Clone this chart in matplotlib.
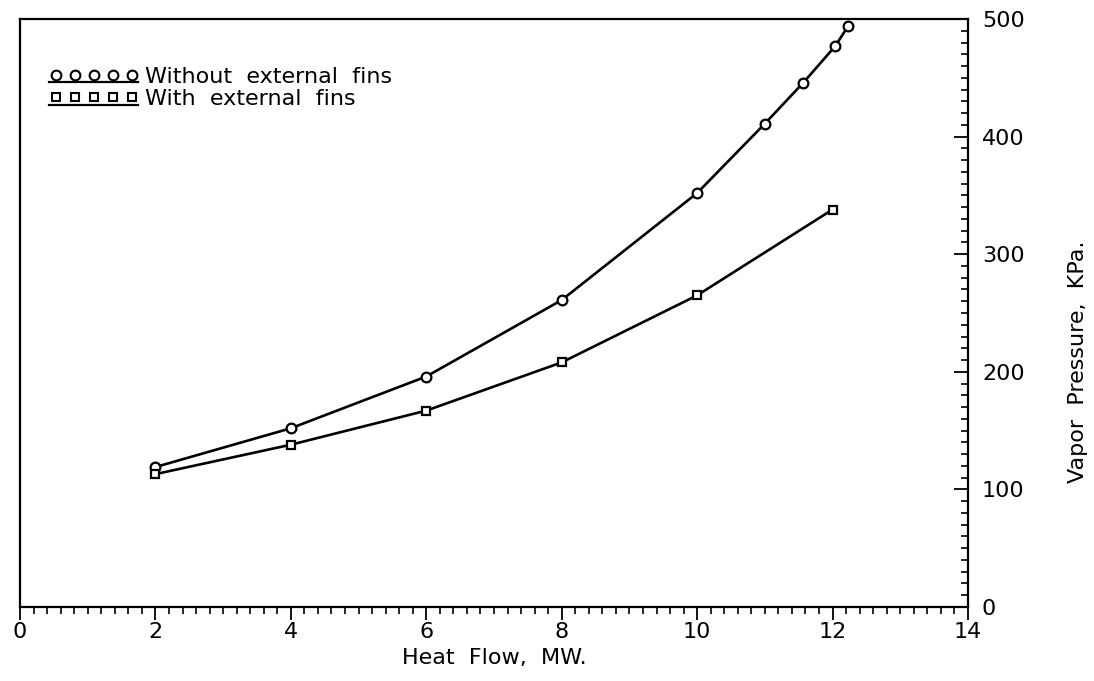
import matplotlib
matplotlib.use("Agg")
import matplotlib.pyplot as plt
from matplotlib.ticker import MultipleLocator
from matplotlib.lines import Line2D
from matplotlib.legend_handler import HandlerLine2D

# Data
heat_without = [2.0, 4.0, 6.0, 8.0, 10.0, 11.0, 11.57, 12.04, 12.23]
vp_without = [119, 152, 196, 261, 352, 411, 446, 477, 494]
heat_with = [2.0, 4.0, 6.0, 8.0, 10.0, 12.0]
vp_with = [113, 138, 167, 208, 265, 338]
label_without = "Without  external  fins"
label_with = "With  external  fins"
xticks = [0, 2, 4, 6, 8, 10, 12, 14]
yticks = [0, 100, 200, 300, 400, 500]

plt.rcParams['font.family'] = ['DejaVu Sans']

fig = plt.figure(figsize=(10.94, 6.81), dpi=100)
ax = fig.add_axes([20/1094, 1 - 607/681, (968-20)/1094, (607-19)/681])

lw = 1.9
ax.plot(heat_without, vp_without, color='black', lw=lw, marker='o', ms=7,
        mfc='white', mec='black', mew=1.6, label=label_without)
ax.plot(heat_with, vp_with, color='black', lw=lw, marker='s', ms=6,
        mfc='white', mec='black', mew=1.6, label=label_with)

ax.set_xlim(0, 14)
ax.set_ylim(0, 500)
ax.set_xticks(xticks)
ax.set_yticks(yticks)
ax.xaxis.set_minor_locator(MultipleLocator(0.2))
ax.yaxis.set_minor_locator(MultipleLocator(10))

ax.yaxis.tick_right()
ax.yaxis.set_label_position('right')
ax.tick_params(axis='x', which='major', direction='out', length=9, width=1.3,
               labelsize=16, pad=2)
ax.tick_params(axis='x', which='minor', direction='out', length=5, width=1.2)
ax.tick_params(axis='y', which='major', direction='in', length=10, width=1.3,
               labelsize=16, pad=10)
ax.tick_params(axis='y', which='minor', direction='in', length=5, width=1.2)
for s in ax.spines.values():
    s.set_linewidth(1.6)

ax.set_xlabel("Heat  Flow,  MW.", fontsize=16, labelpad=4)
ax.set_ylabel("Vapor  Pressure,  KPa.", fontsize=16, rotation=90)
ax.yaxis.set_label_coords(1.105, 0.417)


class UnderlinedHandler(HandlerLine2D):
    def create_artists(self, legend, orig_handle, xdescent, ydescent, width,
                       height, fontsize, trans):
        arts = super().create_artists(legend, orig_handle, xdescent, ydescent,
                                      width, height, fontsize, trans)
        y = -ydescent + 0.02 * height
        ul = Line2D([-xdescent, width - xdescent], [y, y], color='black',
                    lw=1.6, transform=trans)
        return list(arts) + [ul]


h1 = Line2D([], [], ls='none', marker='o', ms=7, mfc='white', mec='black', mew=1.5)
h2 = Line2D([], [], ls='none', marker='s', ms=6, mfc='white', mec='black', mew=1.5)
leg = ax.legend([h1, h2], [label_without, label_with], loc='upper left',
                bbox_to_anchor=(0.031, 0.919), frameon=False, numpoints=5,
                handlelength=4.0, handletextpad=0.3, labelspacing=0.1,
                fontsize=16, borderaxespad=0.0, borderpad=0.0,
                handler_map={h1: UnderlinedHandler(), h2: UnderlinedHandler()})

fig.savefig("out.png", dpi=100)
